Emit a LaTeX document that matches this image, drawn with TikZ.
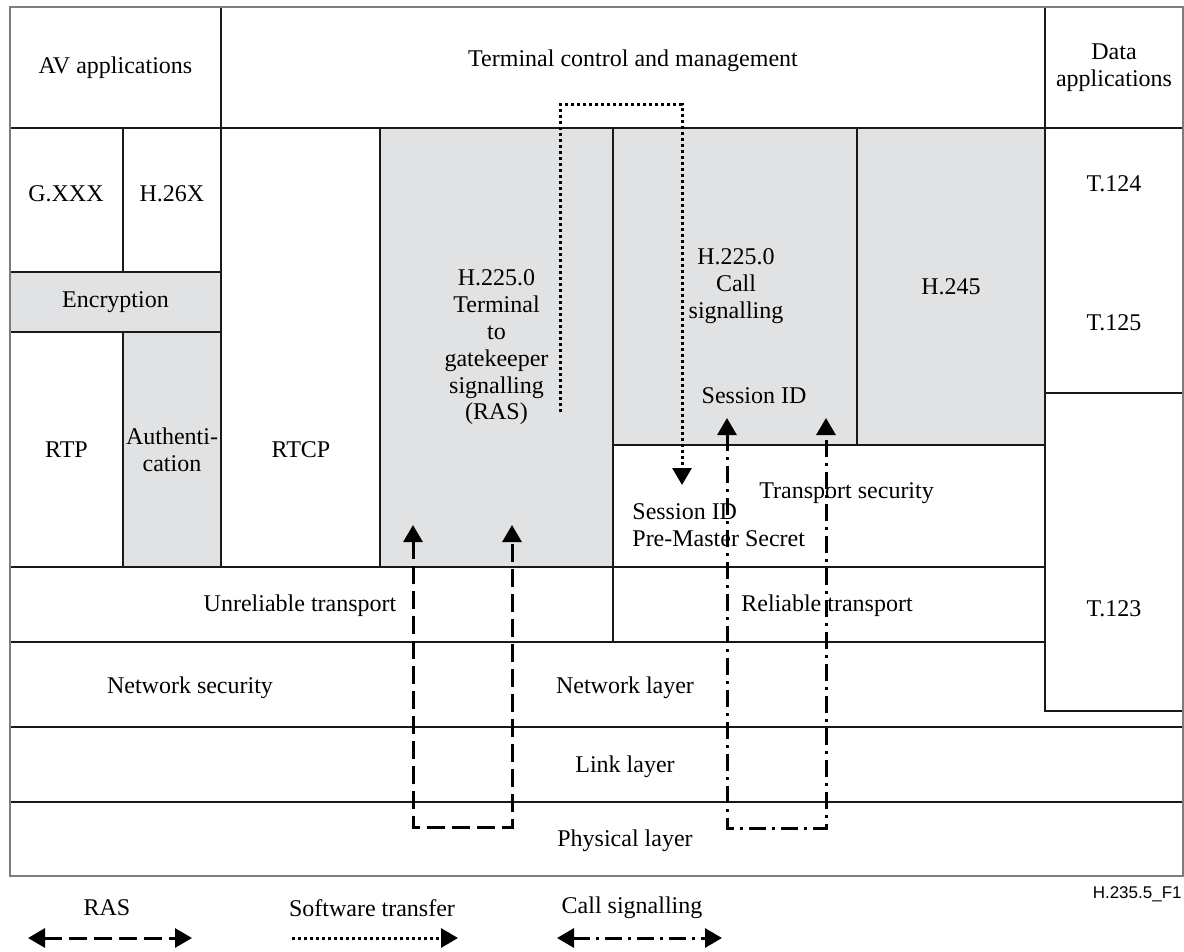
\documentclass[tikz,border=0pt]{standalone}
\usepackage{fontspec}
\setmainfont{Liberation Serif}
\newfontfamily\figidfont{Liberation Sans}
\usetikzlibrary{arrows.meta, positioning, fit}
\definecolor{cellgrey}{RGB}{225, 226, 228}
\definecolor{framegrey}{RGB}{125, 125, 125}

\begin{document}
\begin{tikzpicture}[
  x=0.5pt, y=-0.5pt,
  cell/.style={draw=black!90, line width=1pt, inner sep=0pt},
  greycell/.style={cell, fill=cellgrey},
  lbl/.style={inner sep=1pt, font=\fontsize{12}{13.4}\selectfont, align=center},
  sigtip/.tip={Triangle[width=9.5pt, length=8.5pt]},
  rasline/.style={line width=1.5pt, dash pattern=on 9pt off 3.5pt, sigtip-sigtip},
  swline/.style={line width=1.5pt, dash pattern=on 1.5pt off 1.5pt, -sigtip},
  csline/.style={line width=1.5pt, dash pattern=on 8.5pt off 3pt on 1.5pt off 3pt, sigtip-sigtip}
]
  \useasboundingbox (0,0) rectangle (1184,952);

  \node[cell, fit={(10,7) (221,128)}] (avapp) {};
  \node[cell, fit={(221,7) (1045,128)}] (tcm) {};
  \node[cell, fit={(1045,7) (1183,128)}] (dataapp) {};
  \node[cell, fit={(10,128) (123,272)}] (gxxx) {};
  \node[cell, fit={(123,128) (221,272)}] (h26x) {};
  \node[greycell, fit={(10,272) (221,332)}] (encr) {};
  \node[cell, fit={(10,332) (123,567)}] (rtp) {};
  \node[greycell, fit={(123,332) (221,567)}] (auth) {};
  \node[cell, fit={(221,128) (380,567)}] (rtcp) {};
  \node[greycell, fit={(380,128) (613,567)}] (ras) {};
  \node[greycell, fit={(613,128) (857,445)}] (callsig) {};
  \node[greycell, fit={(857,128) (1045,445)}] (h245) {};
  \node[cell, fit={(613,445) (1045,567)}] (tsec) {};
  \node[cell, fit={(1045,128) (1183,393)}] (t124) {};
  \node[cell, fit={(10,567) (613,642)}] (unrel) {};
  \node[cell, fit={(613,567) (1045,642)}] (rel) {};
  \node[cell, fit={(10,642) (1183,727)}] (netw) {};
  \node[cell, fill=white, fit={(1045,393) (1183,711)}] (t123) {};
  \node[cell, fit={(10,727) (1183,802)}] (link) {};
  \node[cell, fit={(10,802) (1183,876)}] (phys) {};
  \draw[white, line width=1pt] (10,7) rectangle (1183,876);
  \draw[framegrey, line width=0.6pt] (10,7) rectangle (1183,876);

  \node[lbl] (avtext) at (avapp) {AV applications};
  \node[lbl] (tcmtext) at (633,61) {Terminal control and management};
  \node[lbl] (datatext) at (dataapp) {Data\\applications};
  \node[lbl] (gxxxtext) at (66,194) {G.XXX};
  \node[lbl] (h26xtext) at (172,194) {H.26X};
  \node[lbl] (encrtext) at (encr) {Encryption};
  \node[lbl] (rtptext) at (rtp) {RTP};
  \node[lbl] (authtext) at (auth) {Authenti-\\cation};
  \node[lbl] (rtcptext) at (301,450) {RTCP};
  \node[lbl] (rastext) at (ras) {H.225.0\\Terminal\\to\\gatekeeper\\signalling\\(RAS)};
  \node[lbl] (callsigtext) at (736,286) {H.225.0\\Call\\signalling};
  \node[lbl] (h245text) at (h245) {H.245};
  \node[lbl] (sidtop) at (754,396) {Session ID};
  \node[lbl, anchor=west] (tsectext) at (757,493) {Transport security};
  \node[lbl, anchor=west, align=left] (sidpms) at (630,525) {Session ID\\Pre-Master Secret};
  \node[lbl] (t124text) at (1114,184) {T.124};
  \node[lbl] (t125text) at (1114,323) {T.125};
  \node[lbl] (t123text) at (1114,609) {T.123};
  \node[lbl] (unreltext) at (300,606) {Unreliable transport};
  \node[lbl] (reltext) at (827,606) {Reliable transport};
  \node[lbl] (netsectext) at (190,688) {Network security};
  \node[lbl] (netwtext) at (625,688) {Network layer};
  \node[lbl] (linktext) at (625,767) {Link layer};
  \node[lbl] (phystext) at (625,841) {Physical layer};

  \coordinate (rasa) at (413,525);
  \coordinate (rasb) at (512,525);
  \coordinate (swa) at (560,412);
  \coordinate (swb) at (682,485);
  \coordinate (csa) at (727,418);
  \coordinate (csb) at (826,418);
  \draw[rasline] (rasa) -- ++(0,302) -| (rasb);
  \draw[swline] (swa) -- ++(0,-307) -| (swb);
  \draw[csline] (csa) -- ++(0,410) -| (csb);

  \node[lbl] (lgras) at (107,908) {RAS};
  \node[lbl] (lgsw) at (372,908) {Software transfer};
  \node[lbl] (lgcs) at (632,908) {Call signalling};
  \coordinate (lgrasa) at (28,938);
  \coordinate (lgrasb) at (192,938);
  \coordinate (lgswa) at (292,938);
  \coordinate (lgswb) at (458,938);
  \coordinate (lgcsa) at (557,938);
  \coordinate (lgcsb) at (722,938);
  \draw[rasline] (lgrasa) -- (lgrasb);
  \draw[swline] (lgswa) -- (lgswb);
  \draw[csline] (lgcsa) -- (lgcsb);

  \node[anchor=east, inner sep=0pt, font=\figidfont\fontsize{8.5}{10}\selectfont] (figid) at (1182,894) {H.235.5\_F1};
\end{tikzpicture}
\end{document}
